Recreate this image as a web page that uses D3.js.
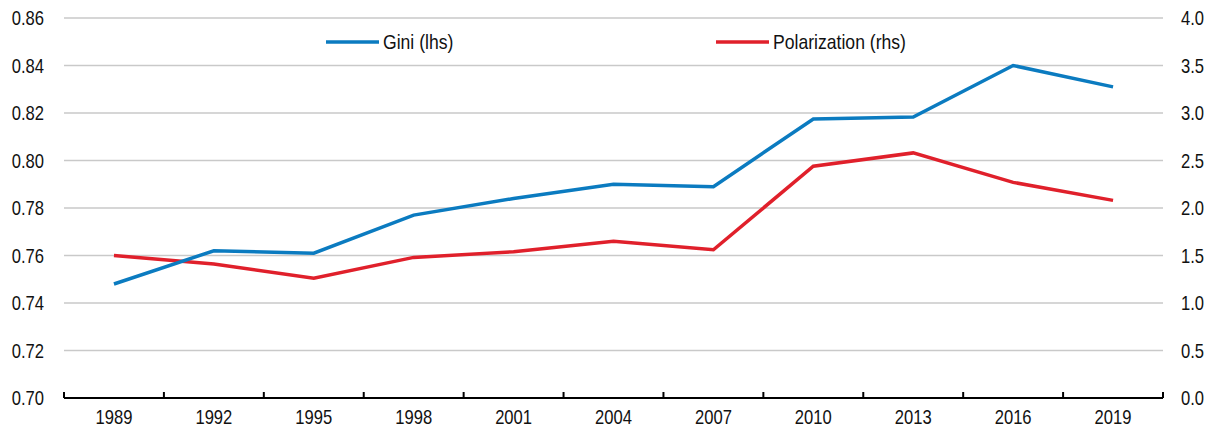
<!DOCTYPE html>
<html>
<head>
<meta charset="utf-8">
<script src="https://cdn.jsdelivr.net/npm/d3@7"></script>
<style>
  body { margin: 0; background: #fff; }
  text { font-family: "Liberation Sans", Arial, sans-serif; fill: #111; }
</style>
</head>
<body>
<div id="chart"></div>
<script>
// Data
const years = ["1989", "1992", "1995", "1998", "2001", "2004", "2007", "2010", "2013", "2016", "2019"];
const gini = [0.748, 0.762, 0.761, 0.777, 0.784, 0.790, 0.789, 0.8175, 0.8183, 0.840, 0.831];
const polarization = [1.50, 1.41, 1.26, 1.48, 1.54, 1.65, 1.56, 2.44, 2.58, 2.27, 2.08];
const leftTicks = [0.70, 0.72, 0.74, 0.76, 0.78, 0.80, 0.82, 0.84, 0.86];
const rightTicks = [0.0, 0.5, 1.0, 1.5, 2.0, 2.5, 3.0, 3.5, 4.0];

const width = 1215, height = 431;
const margin = { top: 18, right: 52, bottom: 33, left: 64 };
const narrow = 0.83; // squeeze text to look like Arial Narrow

const svg = d3.select("#chart").append("svg")
  .attr("width", width)
  .attr("height", height);

const x = d3.scaleBand().domain(years).range([margin.left, width - margin.right]);
const yL = d3.scaleLinear().domain([0.70, 0.86]).range([height - margin.bottom, margin.top]);
const yR = d3.scaleLinear().domain([0, 4]).range([height - margin.bottom, margin.top]);

function place(px, py, sx) {
  return "translate(" + px + "," + py + ") scale(" + (sx || narrow) + ",1)";
}

// gridlines
svg.append("g")
  .selectAll("line")
  .data(leftTicks.slice(1))
  .enter().append("line")
  .attr("x1", margin.left)
  .attr("x2", width - margin.right)
  .attr("y1", d => yL(d))
  .attr("y2", d => yL(d))
  .attr("stroke", "#c9c9c9")
  .attr("stroke-width", 1.5);

// left axis labels
svg.append("g")
  .selectAll("text")
  .data(leftTicks)
  .enter().append("text")
  .attr("transform", d => place(margin.left - 20, yL(d) + 7))
  .attr("text-anchor", "end")
  .attr("font-size", 20)
  .text(d => d.toFixed(2));

// right axis labels
svg.append("g")
  .selectAll("text")
  .data(rightTicks)
  .enter().append("text")
  .attr("transform", d => place(width - margin.right + 18, yR(d) + 7))
  .attr("text-anchor", "start")
  .attr("font-size", 20)
  .text(d => d.toFixed(1));

// x axis
const xAxis = svg.append("g");
xAxis.append("line")
  .attr("x1", margin.left)
  .attr("x2", width - margin.right)
  .attr("y1", yL(0.70))
  .attr("y2", yL(0.70))
  .attr("stroke", "#000")
  .attr("stroke-width", 2);

const bounds = years.map(d => x(d)).concat([x(years[years.length - 1]) + x.bandwidth()]);
xAxis.selectAll(".tick")
  .data(bounds)
  .enter().append("line")
  .attr("x1", d => d)
  .attr("x2", d => d)
  .attr("y1", yL(0.70) - 6)
  .attr("y2", yL(0.70))
  .attr("stroke", "#000")
  .attr("stroke-width", 2);

xAxis.selectAll("text")
  .data(years)
  .enter().append("text")
  .attr("transform", d => place(x(d) + x.bandwidth() / 2, yL(0.70) + 26))
  .attr("text-anchor", "middle")
  .attr("font-size", 20)
  .text(d => d);

// lines
const cx = (d, i) => x(years[i]) + x.bandwidth() / 2;

svg.append("path")
  .datum(polarization)
  .attr("fill", "none")
  .attr("stroke", "#e0202b")
  .attr("stroke-width", 3.5)
  .attr("d", d3.line().x(cx).y(d => yR(d)));

svg.append("path")
  .datum(gini)
  .attr("fill", "none")
  .attr("stroke", "#0b7bc0")
  .attr("stroke-width", 3.5)
  .attr("d", d3.line().x(cx).y(d => yL(d)));

// legend
const legend = [
  { name: "Gini (lhs)", color: "#0b7bc0", x: 326 },
  { name: "Polarization (rhs)", color: "#e0202b", x: 716 }
];
const lg = svg.append("g").selectAll("g")
  .data(legend)
  .enter().append("g")
  .attr("transform", d => "translate(" + d.x + ",42)");
lg.append("line")
  .attr("x1", 0).attr("x2", 53)
  .attr("stroke", d => d.color)
  .attr("stroke-width", 3.5);
lg.append("text")
  .attr("transform", place(57, 7, 0.88))
  .attr("font-size", 20)
  .text(d => d.name);
</script>
</body>
</html>
